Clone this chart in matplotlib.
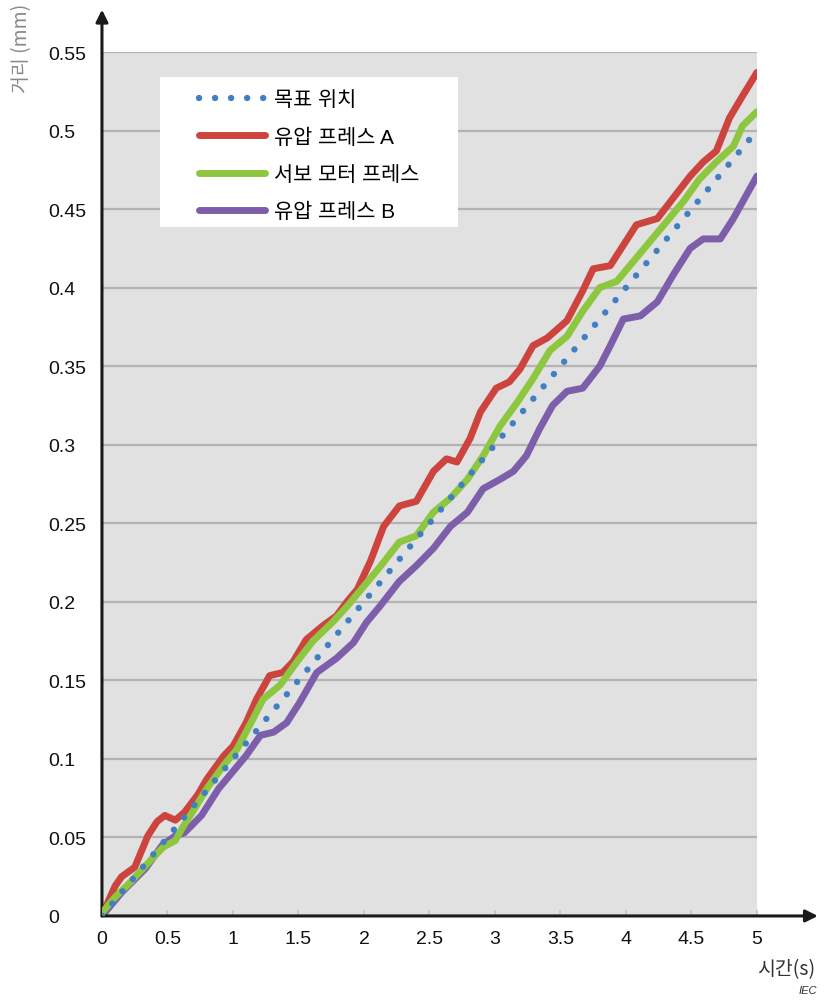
import numpy as np
import matplotlib.pyplot as plt
from matplotlib.patches import Rectangle

plt.rcParams['font.family'] = ['Liberation Sans', 'Noto Sans CJK KR', 'DejaVu Sans']

# ---- data ----
labels = ["목표 위치", "유압 프레스 A", "서보 모터 프레스", "유압 프레스 B"]

target_x = [0, 5]
target_y = [0, 0.5]

press_a_x = [0, 0.02, 0.1, 0.15, 0.25, 0.3, 0.35, 0.42, 0.48, 0.56, 0.63, 0.73, 0.8,
             0.93, 1.0, 1.1, 1.18, 1.28, 1.38, 1.46, 1.56, 1.69, 1.79, 1.87, 1.95,
             2.05, 2.15, 2.27, 2.4, 2.53, 2.63, 2.71, 2.81, 2.89, 3.01, 3.11, 3.19,
             3.29, 3.4, 3.55, 3.67, 3.75, 3.88, 3.98, 4.08, 4.24, 4.36, 4.49, 4.59,
             4.69, 4.79, 4.89, 5.0]
press_a_y = [0.002, 0.004, 0.019, 0.025, 0.031, 0.041, 0.051, 0.06, 0.064, 0.061, 0.066,
             0.077, 0.087, 0.102, 0.108, 0.123, 0.138, 0.153, 0.155, 0.162, 0.176, 0.185,
             0.191, 0.2, 0.208, 0.226, 0.248, 0.261, 0.264, 0.283, 0.291, 0.289, 0.304,
             0.321, 0.336, 0.34, 0.348, 0.363, 0.368, 0.379, 0.398, 0.412, 0.414, 0.427,
             0.44, 0.444, 0.457, 0.471, 0.48, 0.487, 0.508, 0.522, 0.537]

servo_x = [0, 0.1, 0.2, 0.3, 0.4, 0.47, 0.56, 0.62, 0.69, 0.8, 0.93, 1.03, 1.15, 1.23,
           1.36, 1.49, 1.61, 1.76, 1.87, 1.97, 2.12, 2.27, 2.4, 2.53, 2.66, 2.79, 2.91,
           3.04, 3.17, 3.29, 3.42, 3.55, 3.67, 3.8, 3.93, 4.05, 4.18, 4.31, 4.44, 4.56,
           4.69, 4.82, 4.89, 5.0]
servo_y = [0.002, 0.012, 0.02, 0.029, 0.038, 0.044, 0.048, 0.057, 0.066, 0.081, 0.096,
           0.106, 0.125, 0.138, 0.147, 0.162, 0.175, 0.187, 0.197, 0.207, 0.222, 0.238,
           0.242, 0.257, 0.266, 0.278, 0.293, 0.312, 0.327, 0.342, 0.36, 0.369, 0.385,
           0.4, 0.404, 0.416, 0.429, 0.442, 0.455, 0.469, 0.48, 0.49, 0.503, 0.512]

press_b_x = [0, 0.02, 0.15, 0.33, 0.46, 0.56, 0.63, 0.76, 0.89, 1.0, 1.1, 1.21, 1.31,
             1.41, 1.51, 1.64, 1.79, 1.92, 2.02, 2.12, 2.27, 2.4, 2.53, 2.66, 2.79, 2.91,
             3.04, 3.14, 3.24, 3.34, 3.44, 3.55, 3.67, 3.8, 3.88, 3.98, 4.11, 4.24, 4.36,
             4.49, 4.59, 4.72, 4.82, 4.92, 5.0]
press_b_y = [0.0, 0.002, 0.015, 0.03, 0.045, 0.051, 0.053, 0.064, 0.081, 0.092, 0.102,
             0.115, 0.117, 0.123, 0.136, 0.155, 0.164, 0.174, 0.187, 0.197, 0.213, 0.223,
             0.234, 0.248, 0.257, 0.272, 0.278, 0.283, 0.293, 0.31, 0.325, 0.334, 0.336,
             0.35, 0.363, 0.38, 0.382, 0.391, 0.408, 0.425, 0.431, 0.431, 0.444, 0.459,
             0.471]

x_ticks = [0, 0.5, 1, 1.5, 2, 2.5, 3, 3.5, 4, 4.5, 5]
x_ticklabels = ["0", "0.5", "1", "1.5", "2", "2.5", "3", "3.5", "4", "4.5", "5"]
y_ticks = [0, 0.05, 0.1, 0.15, 0.2, 0.25, 0.3, 0.35, 0.4, 0.45, 0.5, 0.55]
y_ticklabels = ["0", "0.05", "0.1", "0.15", "0.2", "0.25", "0.3", "0.35", "0.4",
                "0.45", "0.5", "0.55"]

# colours
c_target = "#3f7fc2"
c_a = "#cc443d"
c_servo = "#8dc63f"
c_b = "#7d5eab"

fig = plt.figure(figsize=(8.27, 10.04), dpi=100)
ax = fig.add_axes([0.1233, 0.0867, 0.792, 0.8605])
ax.set_facecolor("#e1e1e1")
ax.set_xlim(0, 5)
ax.set_ylim(0, 0.55)

for s in ax.spines.values():
    s.set_visible(False)

# horizontal grid
ax.set_yticks(y_ticks)
ax.set_yticklabels(y_ticklabels)
ax.yaxis.grid(True, color="#b3b3b3", lw=1.6, zorder=0)
ax.set_axisbelow(True)
ax.tick_params(axis="y", length=0, pad=39, labelsize=14, colors="#111111")
for t in ax.get_yticklabels():
    t.set_horizontalalignment("left")

ax.set_xticks(x_ticks)
ax.set_xticklabels(x_ticklabels)
ax.tick_params(axis="x", direction="in", length=4, width=1.2, color="#c4c4c4",
               pad=10, labelsize=14, labelcolor="#111111")

# legend background box
ax.add_patch(Rectangle((0.0885, 0.797), 0.455, 0.174, transform=ax.transAxes,
                       facecolor="white", edgecolor="none", zorder=2))

ax.plot(target_x, target_y, color=c_target, lw=4.6, dashes=(0.01, 2.5),
        dash_capstyle="round", label=labels[0], zorder=5)
ax.plot(press_a_x, press_a_y, color=c_a, lw=5, solid_joinstyle="round",
        solid_capstyle="round", label=labels[1], zorder=3)
ax.plot(servo_x, servo_y, color=c_servo, lw=5, solid_joinstyle="round",
        solid_capstyle="round", label=labels[2], zorder=4)
ax.plot(press_b_x, press_b_y, color=c_b, lw=5, solid_joinstyle="round",
        solid_capstyle="round", label=labels[3], zorder=3)

leg = ax.legend(loc="upper left", bbox_to_anchor=(0.148, 0.956), frameon=False,
                borderpad=0, borderaxespad=0, handlelength=3.15, handletextpad=0.45,
                labelspacing=0.88, prop={"family": ["Liberation Sans", "Noto Sans CJK KR"],
                                         "size": 15})
leg.set_zorder(6)

# axis arrows
ax.annotate("", xy=(1.093, 0), xytext=(0, 0), xycoords="axes fraction",
            textcoords="axes fraction",
            arrowprops=dict(arrowstyle="-|>", color="#1a1a1a", lw=2.2,
                            mutation_scale=18, shrinkA=0, shrinkB=0))
ax.annotate("", xy=(0, 1.049), xytext=(0, 0), xycoords="axes fraction",
            textcoords="axes fraction",
            arrowprops=dict(arrowstyle="-|>", color="#1a1a1a", lw=2.2,
                            mutation_scale=18, shrinkA=0, shrinkB=0))

# labels
fig.text(0.026, 0.996, "거리 (mm)", rotation=90, ha="center", va="top", fontsize=14,
         color="#8a8a8a", family=["Noto Sans CJK KR", "Liberation Sans"])
fig.text(0.986, 0.034, "시간(s)", ha="right", va="center", fontsize=14,
         color="#333333", family=["Noto Sans CJK KR", "Liberation Sans"])
fig.text(0.988, 0.013, "IEC", ha="right", va="center", fontsize=8, style="italic",
         color="#333333")

fig.savefig("out.png", dpi=100)
